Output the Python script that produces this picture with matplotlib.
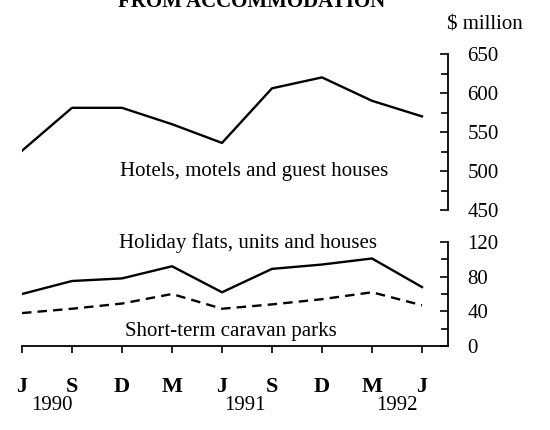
"""Takings from accommodation, quarterly 1990-1992 (two stacked panels)."""
import matplotlib

matplotlib.use("Agg")
import matplotlib.pyplot as plt
from matplotlib.ticker import MultipleLocator
from matplotlib.transforms import blended_transform_factory

plt.rcParams["font.family"] = ["Liberation Serif", "DejaVu Serif"]

# Quarter labels (June 1990 .. June 1992)
months = ["J", "S", "D", "M", "J", "S", "D", "M", "J"]
years = ["1990", "1991", "1992"]
year_pos = [0.6, 4.45, 7.5]

# $ million
hotels = [526, 581, 581, 560, 536, 606, 620, 590, 570]
holiday_flats = [60, 75, 78, 92, 62, 89, 94, 101, 68]
caravan_parks = [38, 43, 49, 60, 43, 48, 54, 62, 47]

FS = 15
W, H = 550, 430

fig = plt.figure(figsize=(W / 100, H / 100), dpi=100)


def fx(px):
    return px / W


def fy(py):
    return 1 - py / H


left, right = fx(22), fx(448)
ax_top = fig.add_axes([left, fy(210), right - left, fy(54) - fy(210)])
ax_bot = fig.add_axes([left, fy(346), right - left, fy(242) - fy(346)])

x = list(range(len(months)))

for ax in (ax_top, ax_bot):
    ax.set_xlim(0, 8.52)
    ax.patch.set_visible(False)
    for side in ("top", "left"):
        ax.spines[side].set_visible(False)
    ax.spines["right"].set_linewidth(1.3)
    ax.yaxis.tick_right()
    ax.tick_params(axis="y", which="both", direction="in", width=1.2,
                   labelsize=FS, pad=14)
    ax.tick_params(axis="y", which="major", length=6)
    ax.tick_params(axis="y", which="minor", length=5)

# top panel: hotels
ax_top.plot(x, hotels, color="black", lw=1.7)
ax_top.set_ylim(450, 650)
ax_top.yaxis.set_major_locator(MultipleLocator(50))
ax_top.yaxis.set_minor_locator(MultipleLocator(25))
ax_top.spines["bottom"].set_visible(False)
ax_top.set_xticks([])
ax_top.text(0.545, 0.245, "Hotels, motels and guest houses", transform=ax_top.transAxes,
            ha="center", va="center", fontsize=FS)

# bottom panel: holiday flats and caravan parks
ax_bot.plot(x, holiday_flats, color="black", lw=1.7)
ax_bot.plot(x, caravan_parks, color="black", lw=1.7, linestyle=(0, (4, 2.6)))
ax_bot.set_ylim(0, 120)
ax_bot.yaxis.set_major_locator(MultipleLocator(40))
ax_bot.yaxis.set_minor_locator(MultipleLocator(20))
ax_bot.spines["bottom"].set_linewidth(1.3)
ax_bot.set_xticks(x)
ax_bot.set_xticklabels(months, fontweight="bold", fontsize=16)
ax_bot.tick_params(axis="x", direction="out", length=5, width=1.2, pad=17)
ax_bot.text(0.53, 0.99, "Holiday flats, units and houses", transform=ax_bot.transAxes,
            ha="center", va="center", fontsize=FS)
ax_bot.text(0.49, 0.14, "Short-term caravan parks", transform=ax_bot.transAxes,
            ha="center", va="center", fontsize=FS)

trans = blended_transform_factory(ax_bot.transData, fig.transFigure)
for pos, yr in zip(year_pos, years):
    ax_bot.text(pos, fy(405), yr, transform=trans, ha="center", va="center",
                fontsize=FS)

fig.text(fx(447), fy(25), "$ million", ha="left", va="center", fontsize=FS)
fig.text(fx(252), fy(7), "FROM ACCOMMODATION", ha="center", va="baseline",
         fontsize=FS, fontweight="bold")

fig.savefig("out.png", dpi=100)
